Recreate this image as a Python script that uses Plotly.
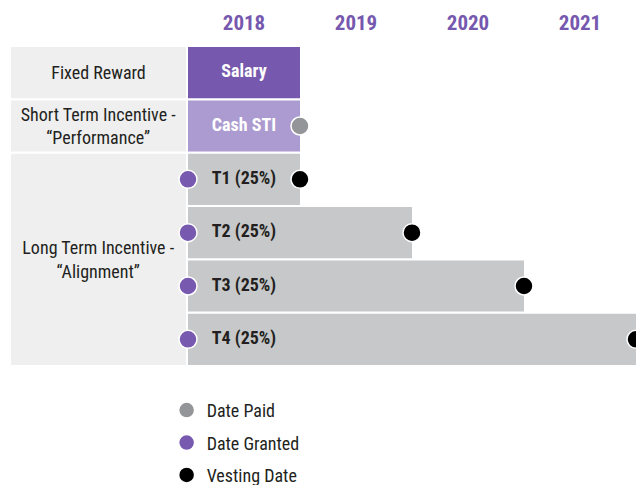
import plotly.graph_objects as go

# ---------------- data ----------------
years = [2018, 2019, 2020, 2021]
components = ["Salary", "Cash STI", "T1 (25%)", "T2 (25%)", "T3 (25%)", "T4 (25%)"]
start_year = [2018, 2018, 2018, 2018, 2018, 2018]
end_year = [2019, 2019, 2019, 2020, 2021, 2022]

groups = ["Fixed Reward", "Short Term Incentive -<br>“Performance”", "Long Term Incentive -<br>“Alignment”"]
group_members = [["Salary"], ["Cash STI"], ["T1 (25%)", "T2 (25%)", "T3 (25%)", "T4 (25%)"]]

paid_items = ["Cash STI"]
paid_dates = [2019]
granted_items = ["T1 (25%)", "T2 (25%)", "T3 (25%)", "T4 (25%)"]
granted_dates = [2018, 2018, 2018, 2018]
vesting_items = ["T1 (25%)", "T2 (25%)", "T3 (25%)", "T4 (25%)"]
vesting_dates = [2019, 2020, 2021, 2022]

# ---------------- style ----------------
FONT = "Liberation Sans Narrow, Roboto Condensed, DejaVu Sans Condensed, Arial Narrow, sans-serif"
PURPLE = "#7658AE"
LIGHT_PURPLE = "#AC9BD0"
GREY_BAR = "#C7C8CA"
LABEL_BG = "#EFEFEF"
DOT_GREY = "#939598"
DOT_PURPLE = "#7759B0"
TEXT = "#231F20"
bar_colors = [PURPLE, LIGHT_PURPLE, GREY_BAR, GREY_BAR, GREY_BAR, GREY_BAR]
bar_text_colors = ["white", "white", TEXT, TEXT, TEXT, TEXT]

pos = {c: i for i, c in enumerate(components)}
PX_PER_YEAR = 112
X_MIN = 2018 - 188 / PX_PER_YEAR
X_MAX = 2022
LABEL_LEFT = 2018 - 177 / PX_PER_YEAR
LABEL_RIGHT = 2018 - 2 / PX_PER_YEAR

fig = go.Figure()

# left label column
g_centers = [sum(pos[m] for m in mem) / len(mem) for mem in group_members]
g_widths = [len(mem) - 0.04 for mem in group_members]
fig.add_trace(go.Bar(
    orientation="h", y=g_centers, x=[LABEL_RIGHT - LABEL_LEFT] * len(groups),
    base=LABEL_LEFT, width=g_widths, marker=dict(color=LABEL_BG, line=dict(width=0)),
    text=groups, textposition="inside", insidetextanchor="middle", textangle=0,
    constraintext="none", textfont=dict(family=FONT, size=18, color=TEXT),
    showlegend=False, hoverinfo="skip"))

# timeline bars
fig.add_trace(go.Bar(
    orientation="h", y=[pos[c] for c in components],
    x=[e - s for s, e in zip(start_year, end_year)], base=start_year, width=0.96,
    marker=dict(color=bar_colors, line=dict(width=0)),
    showlegend=False, hoverinfo="skip"))

# bar labels (centered in first year column)
fig.add_trace(go.Scatter(
    x=[years[0] + 0.5] * len(components), y=[pos[c] for c in components],
    mode="text", text=components,
    textfont=dict(family=FONT, size=18, color=bar_text_colors, weight="bold"),
    showlegend=False, hoverinfo="skip"))

marker_line = dict(color="white", width=1.5)
fig.add_trace(go.Scatter(
    x=paid_dates, y=[pos[c] for c in paid_items], mode="markers", name="Date Paid",
    marker=dict(size=18, color=DOT_GREY, line=marker_line), legendgroup="a"))
fig.add_trace(go.Scatter(
    x=granted_dates, y=[pos[c] for c in granted_items], mode="markers", name="Date Granted",
    marker=dict(size=18, color=DOT_PURPLE, line=marker_line), legendgroup="b", cliponaxis=False))
fig.add_trace(go.Scatter(
    x=vesting_dates, y=[pos[c] for c in vesting_items], mode="markers", name="Vesting Date",
    marker=dict(size=18, color="black", line=marker_line), legendgroup="c"))

fig.update_layout(
    width=636, height=485,
    margin=dict(l=0, r=0, t=46, b=119, autoexpand=False),
    plot_bgcolor="white", paper_bgcolor="white",
    barmode="overlay",
    font=dict(family=FONT, size=16, color=TEXT),
    xaxis=dict(range=[X_MIN, X_MAX], side="top", tickvals=[y + 0.5 for y in years],
               ticktext=[str(y) for y in years], showgrid=False, zeroline=False,
               showline=False, ticks="", ticklabelstandoff=11,
               tickfont=dict(family=FONT, size=21, color=PURPLE, weight="bold")),
    yaxis=dict(range=[5.5, -0.5], visible=False),
    legend=dict(orientation="v", x=0.262, xanchor="left", y=-0.081, yanchor="top",
                font=dict(family=FONT, size=18, color=TEXT), tracegroupgap=6,
                traceorder="grouped", bgcolor="rgba(0,0,0,0)"),
)

fig.write_html("out.html", config={"displayModeBar": False},
               post_script="document.body.style.margin='0px';")
